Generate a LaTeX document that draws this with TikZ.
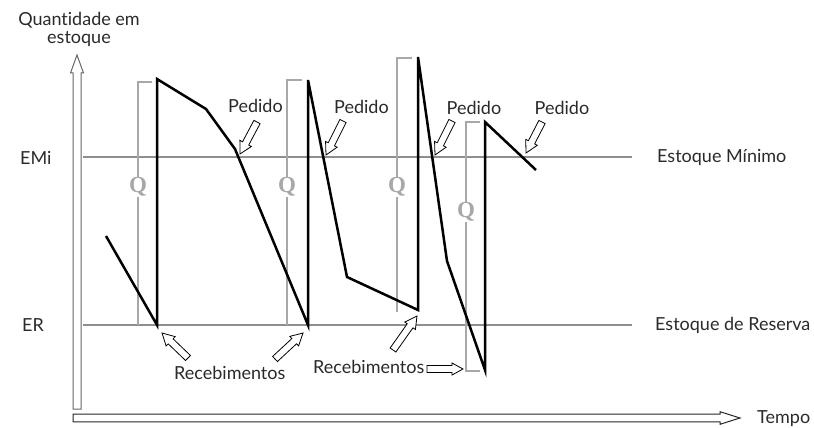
\documentclass[tikz,border=0pt]{standalone}
\usepackage{fontspec}
\setmainfont{Lato}[Ligatures=NoCommon]
\newfontfamily\qfont{Liberation Serif}
\usetikzlibrary{calc}
\definecolor{hline}{HTML}{8E8E8E}
\definecolor{qgray}{HTML}{A8A8A8}
\definecolor{txt}{HTML}{2A2A2A}
\definecolor{axgray}{HTML}{666666}
% block arrow: tail, tip, shaft half-width, head half-width, head length, style
\newcommand\blockarrow[6]{%
  \coordinate (ba-base) at ($(#2)!#5!(#1)$);
  \draw[#6] ($(#1)!#3!90:(#2)$) -- ($(ba-base)!#3!90:(#2)$) -- ($(ba-base)!#4!90:(#2)$)
    -- (#2) -- ($(ba-base)!#4!-90:(#2)$) -- ($(ba-base)!#3!-90:(#2)$)
    -- ($(#1)!#3!-90:(#2)$) -- cycle;}
\begin{document}
\begin{tikzpicture}[x=1pt,y=-1pt,
  refline/.style={draw=hline, line width=2.4pt},
  bracket/.style={draw=qgray, line width=2pt},
  stock/.style={draw=black, line width=2.5pt, line join=miter},
  lbl/.style={font=\fontsize{18}{20}\selectfont, text=txt, inner sep=0pt},
  qlbl/.style={font=\qfont\bfseries\fontsize{23}{23}\selectfont, text=qgray, fill=white, inner sep=1pt},
  callout/.style={draw=black, line width=0.8pt, fill=white, line join=miter},
  vaxis/.style={draw=axgray, line width=1pt, fill=white},
  haxis/.style={draw=black!85, line width=1pt, fill=white}]
\useasboundingbox (0,0) rectangle (814,428);

% axes
\coordinate (ytail) at (77,409);
\coordinate (ytip) at (77,55);
\coordinate (xtail) at (73,418);
\coordinate (xtip) at (740,418);
\blockarrow{ytail}{ytip}{4pt}{6.5pt}{18pt}{vaxis}
\blockarrow{xtail}{xtip}{3.8pt}{6.3pt}{20pt}{haxis}
\node[lbl, anchor=base] (qty1) at (79,26) {Quantidade em};
\node[lbl, anchor=base] (qty2) at (79,44) {estoque};
\node[lbl, anchor=base west] (tempo) at (757,423) {Tempo};

% reference lines
\coordinate (emiL) at (83,157);
\coordinate (emiR) at (632,157);
\coordinate (erL) at (83,325);
\coordinate (erR) at (632,325);
\draw[refline] (emiL) -- (emiR);
\draw[refline] (erL) -- (erR);
\node[lbl, anchor=base west] (emi) at (20,164) {EMi};
\node[lbl, anchor=base west] (er) at (22,331) {ER};
\node[lbl, anchor=base west] (emin) at (657,162) {Estoque Mínimo};
\node[lbl, anchor=base west] (eres) at (655,330) {Estoque de Reserva};

% Q brackets
\draw[bracket] (152,82) -- (138,82) -- (138,325);
\draw[bracket] (302,80) -- (287,80) -- (287,325);
\draw[bracket] (412,58) -- (397,58) -- (397,312);
\draw[bracket] (480,122) -- (466,122) -- (466,371) -- (480,371);
\node[qlbl] (q1) at (138,187) {Q};
\node[qlbl] (q2) at (287,187) {Q};
\node[qlbl] (q3) at (397,187) {Q};
\node[qlbl] (q4) at (466,212) {Q};

% stock curve
\draw[stock] (106,236) -- (157,325) -- (157,79) -- (206,109) -- (235,149)
  -- (308,325) -- (308,80) -- (347,277) -- (418,310) -- (418,57)
  -- (447,261) -- (485,370) -- (485,122) -- (536,170);

% Pedido callouts
\node[lbl, anchor=base] (ped1) at (255.5,112) {Pedido};
\node[lbl, anchor=base] (ped2) at (361.5,113) {Pedido};
\node[lbl, anchor=base] (ped3) at (474,114) {Pedido};
\node[lbl, anchor=base] (ped4) at (562,114) {Pedido};
\coordinate (p1t) at (257,122); \coordinate (p1h) at (240,154);
\coordinate (p2t) at (343,121); \coordinate (p2h) at (326,155);
\coordinate (p3t) at (452,121); \coordinate (p3h) at (435,155);
\coordinate (p4t) at (542,122); \coordinate (p4h) at (526,153);
\blockarrow{p1t}{p1h}{3.5pt}{6.5pt}{12pt}{callout}
\blockarrow{p2t}{p2h}{3.5pt}{6.5pt}{12pt}{callout}
\blockarrow{p3t}{p3h}{3.5pt}{6.5pt}{12pt}{callout}
\blockarrow{p4t}{p4h}{3.5pt}{6.5pt}{12pt}{callout}

% Recebimentos callouts
\node[lbl, anchor=base west] (rec1) at (174,379) {Recebimentos};
\node[lbl, anchor=base west] (rec2) at (313,373) {Recebimentos};
\coordinate (r1t) at (188,358); \coordinate (r1h) at (162,333);
\coordinate (r2t) at (275,359); \coordinate (r2h) at (303,333);
\coordinate (r3t) at (393,350); \coordinate (r3h) at (417,316);
\coordinate (r4t) at (427,369); \coordinate (r4h) at (463,369);
\blockarrow{r1t}{r1h}{3.5pt}{6.5pt}{12pt}{callout}
\blockarrow{r2t}{r2h}{3.5pt}{6.5pt}{12pt}{callout}
\blockarrow{r3t}{r3h}{3.5pt}{6.5pt}{12pt}{callout}
\blockarrow{r4t}{r4h}{3.5pt}{6pt}{11pt}{callout}
\end{tikzpicture}
\end{document}
